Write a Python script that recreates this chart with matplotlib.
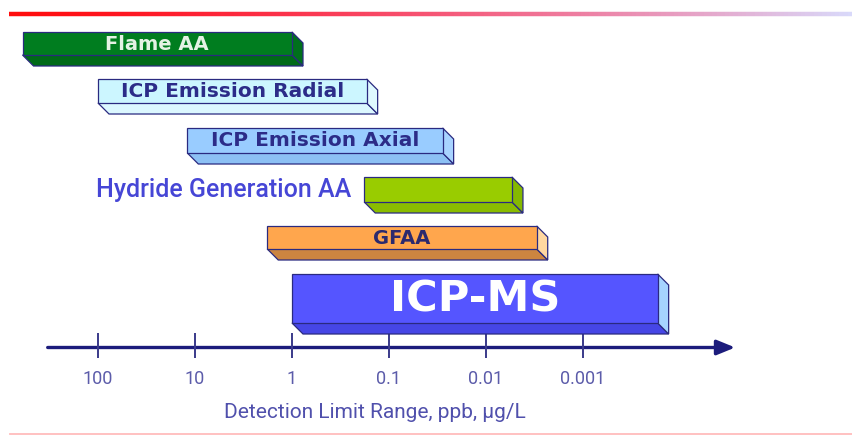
import numpy as np
import matplotlib
matplotlib.use('Agg')
import matplotlib.pyplot as plt
from matplotlib.patches import Polygon
from matplotlib.collections import LineCollection
from matplotlib.transforms import IdentityTransform

# detection limit ranges, ppb (high end, low end)
techniques = ['Flame AA', 'ICP Emission Radial', 'ICP Emission Axial',
              'Hydride Generation AA', 'GFAA', 'ICP-MS']
range_high = [600, 100, 12, 0.18, 1.8, 1.0]
range_low = [1.0, 0.17, 0.028, 0.0054, 0.003, 0.00017]

tick_values = [100, 10, 1, 0.1, 0.01, 0.001]
tick_labels = ['100', '10', '1', '0.1', '0.01', '0.001']
x_title = 'Detection Limit Range, ppb, \u00b5g/L'

# layout: rows in pixel units from the top (top edge, front height)
row_top = [32, 79, 128, 177, 226, 274]
row_h = [23, 24, 25, 25, 23, 49]
depth = 11

front_col = ['#007d1f', '#ccf6ff', '#99ccff', '#99cc00', '#ffa64d', '#5555ff']
under_col = ['#006a18', '#dcf8ff', '#8cc0f4', '#8abc00', '#cc8540', '#4646e6']
side_col = ['#00701c', '#dff9ff', '#a8d3ff', '#85b800', '#ffd7a0', '#a6d4ff']
text_col = ['#e4f2e4', '#2c2c88', '#2c2c88', None, '#2c2a6e', 'white']
text_size = [14, 14.5, 14.5, None, 14, 31]
edge = '#2a2a80'

narrow = ['Roboto', 'DejaVu Sans']

fig = plt.figure(figsize=(8.52, 4.37), dpi=100)
ax = fig.add_axes([0, 0, 1, 1])
ax.set_xscale('log')
ax.set_xlim(10 ** (292 / 97), 10 ** (-(852 - 292) / 97))
ax.set_ylim(437, 0)
ax.axis('off')

# red rule at top, fading out to the right
xs = np.linspace(0.011, 1.0, 200)
segs = [[(xs[i], 0.969), (xs[i + 1], 0.969)] for i in range(len(xs) - 1)]
t = np.linspace(0, 1, len(segs))
cols = np.zeros((len(segs), 4))
cols[:, 0] = 1.0 - 0.15 * t ** 2
cols[:, 1] = 0.05 + 0.8 * t ** 1.5
cols[:, 2] = 0.05 + 0.93 * t ** 1.2
cols[:, 3] = 1.0
ax.add_collection(LineCollection(segs, colors=cols, linewidths=3.2,
                                 transform=ax.transAxes))
# faint rule at the bottom
ax.plot([0.012, 1.0], [0.007, 0.007], color='#ffbcbc', lw=1.3,
        transform=ax.transAxes)

for i, name in enumerate(techniques):
    (x0, y0) = ax.transData.transform((range_high[i], row_top[i]))
    (x1, y1) = ax.transData.transform((range_low[i], row_top[i] + row_h[i]))
    # y0 is the top (bigger display y), y1 the bottom
    under = [(x0, y1), (x1, y1), (x1 + depth, y1 - depth), (x0 + depth, y1 - depth)]
    side = [(x1, y0), (x1 + depth, y0 - depth), (x1 + depth, y1 - depth), (x1, y1)]
    front = [(x0, y0), (x1, y0), (x1, y1), (x0, y1)]
    for pts, c in [(under, under_col[i]), (side, side_col[i]), (front, front_col[i])]:
        ax.add_patch(Polygon(pts, closed=True, facecolor=c, edgecolor=edge,
                             lw=0.9, transform=IdentityTransform(), zorder=3))

    xc = np.sqrt(range_high[i] * range_low[i])
    yc = row_top[i] + row_h[i] / 2
    if text_col[i] is None:
        ax.text(range_high[i], yc + 1, name + '  ', ha='right', va='center',
                fontsize=18, fontweight='medium', color='#4646d6',
                family=narrow, zorder=4)
    else:
        ax.text(xc, yc + 0.5, name, ha='center', va='center',
                fontsize=text_size[i], fontweight='bold', color=text_col[i],
                family='DejaVu Sans', zorder=4)

# axis with arrow
ax.annotate('', xy=(2.7e-5, 347.5), xytext=(330, 347.5),
            arrowprops=dict(arrowstyle='-|>,head_length=1.1,head_width=0.45',
                            color='#1c1c7c', lw=2.4, shrinkA=0, shrinkB=0),
            zorder=2)
ax.vlines(tick_values, 333, 358, color='#3a3a8a', lw=1.4, zorder=2)
for v, lab in zip(tick_values, tick_labels):
    ax.text(v, 378.5, lab, ha='center', va='center', fontsize=13,
            color='#5c5caa', family=narrow)

ax.text(10 ** ((292 - 375) / 97), 413, x_title, ha='center', va='center',
        fontsize=15, color='#5050ac', family=narrow)

fig.savefig('out.png', dpi=100)
